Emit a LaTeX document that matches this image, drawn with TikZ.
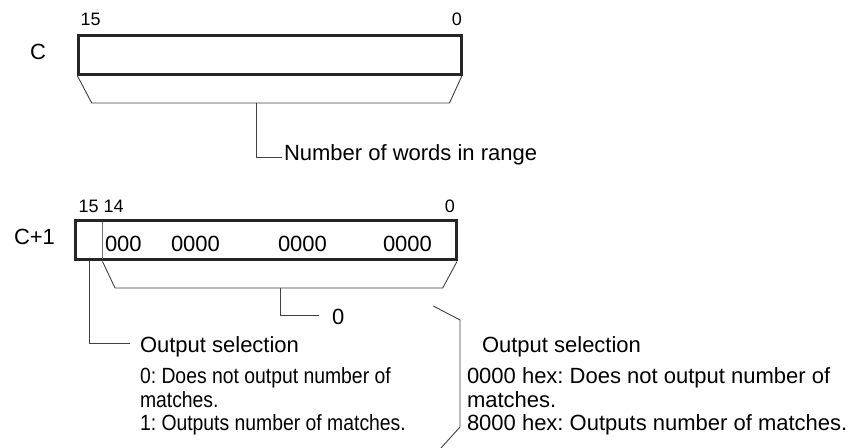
\documentclass[tikz,border=0pt]{standalone}
\usepackage{fontspec}
\usepackage{graphicx}
\setmainfont{Liberation Sans}
\frenchspacing
\begin{document}
\begin{tikzpicture}[x=1bp,y=-1bp,
  txt/.style={inner sep=0pt,outer sep=0pt,anchor=base west,font=\fontsize{22bp}{25bp}\selectfont},
  bitlbl/.style={inner sep=0pt,outer sep=0pt,font=\fontsize{18bp}{20bp}\selectfont},
  regbox/.style={draw=black!85,line width=3bp},
  thin/.style={draw=black!75,line width=0.9bp},
  divider/.style={draw=black!55,line width=1bp}]
\useasboundingbox (0,0) rectangle (856,448);
% ---- C ----
\node[bitlbl,anchor=base west] (b15) at (80.5,26) {15};
\node[bitlbl,anchor=base east] (b0) at (462,26) {0};
\node[txt] (lc) at (30,59.5) {C};
\draw[regbox] (78.8,35.5) rectangle (461.8,74.5);
\coordinate (t1a) at (77.5,76);
\coordinate (t1b) at (91.7,103);
\coordinate (t1c) at (449.5,103);
\coordinate (t1d) at (461.8,76);
\draw[thin] (t1a) -- (t1b) -- (t1c) -- (t1d);
\node[txt] (nw) at (284,161) {Number of words in range};
\coordinate (v1top) at (256.7,103);
\coordinate (v1cor) at (256.7,157);
\coordinate (v1end) at (282,157);
\draw[thin] (v1top) -- (v1cor) -- (v1end);
% ---- C+1 ----
\node[bitlbl,anchor=base west] (b1514) at (78.5,212.3) {15 14};
\node[bitlbl,anchor=base east] (b0b) at (455,212.3) {0};
\node[txt] (lc1) at (14,245) {C+1};
\draw[regbox] (75.5,220.8) rectangle (456.8,259.8);
\coordinate (dtop) at (102.5,222);
\coordinate (dbot) at (102.5,259);
\draw[divider] (dtop) -- (dbot);
\node[txt] (d1) at (105,251.7) {000};
\node[txt] (d2) at (171,251.7) {0000};
\node[txt] (d3) at (278,251.7) {0000};
\node[txt] (d4) at (383,251.7) {0000};
\coordinate (t2a) at (102.5,261.5);
\coordinate (t2b) at (115,288);
\coordinate (t2c) at (442.7,288);
\coordinate (t2d) at (457,261.5);
\draw[thin] (t2a) -- (t2b) -- (t2c) -- (t2d);
\node[txt] (zero) at (332,324.3) {0};
\coordinate (v2top) at (280,288);
\coordinate (v2cor) at (280,315);
\coordinate (v2end) at (319,315);
\draw[thin] (v2top) -- (v2cor) -- (v2end);
% output selection bit 15
\coordinate (v3top) at (89.3,261.5);
\coordinate (v3cor) at (89.3,343.3);
\coordinate (v3end) at (130,343.3);
\draw[thin] (v3top) -- (v3cor) -- (v3end);
\node[txt] (os1) at (140,352.3) {Output selection};
\node[txt] (l1) at (140,384) {\scalebox{0.88}[1]{0: Does not output number of}};
\node[txt] (l2) at (140,407) {\scalebox{0.88}[1]{matches.}};
\node[txt] (l3) at (140,430) {\scalebox{0.88}[1]{1: Outputs number of matches.}};
% bracket
\coordinate (bra) at (433.3,306);
\coordinate (brb) at (460,320);
\coordinate (brc) at (460,427);
\coordinate (brd) at (441,448);
\draw[thin] (bra) -- (brb) -- (brc) -- (brd);
\node[txt] (os2) at (482,352.3) {Output selection};
\node[txt] (r1) at (467,384) {0000 hex: Does not output number of};
\node[txt] (r2) at (467,407) {matches.};
\node[txt] (r3) at (467,430) {8000 hex: Outputs number of matches.};
\end{tikzpicture}
\end{document}
